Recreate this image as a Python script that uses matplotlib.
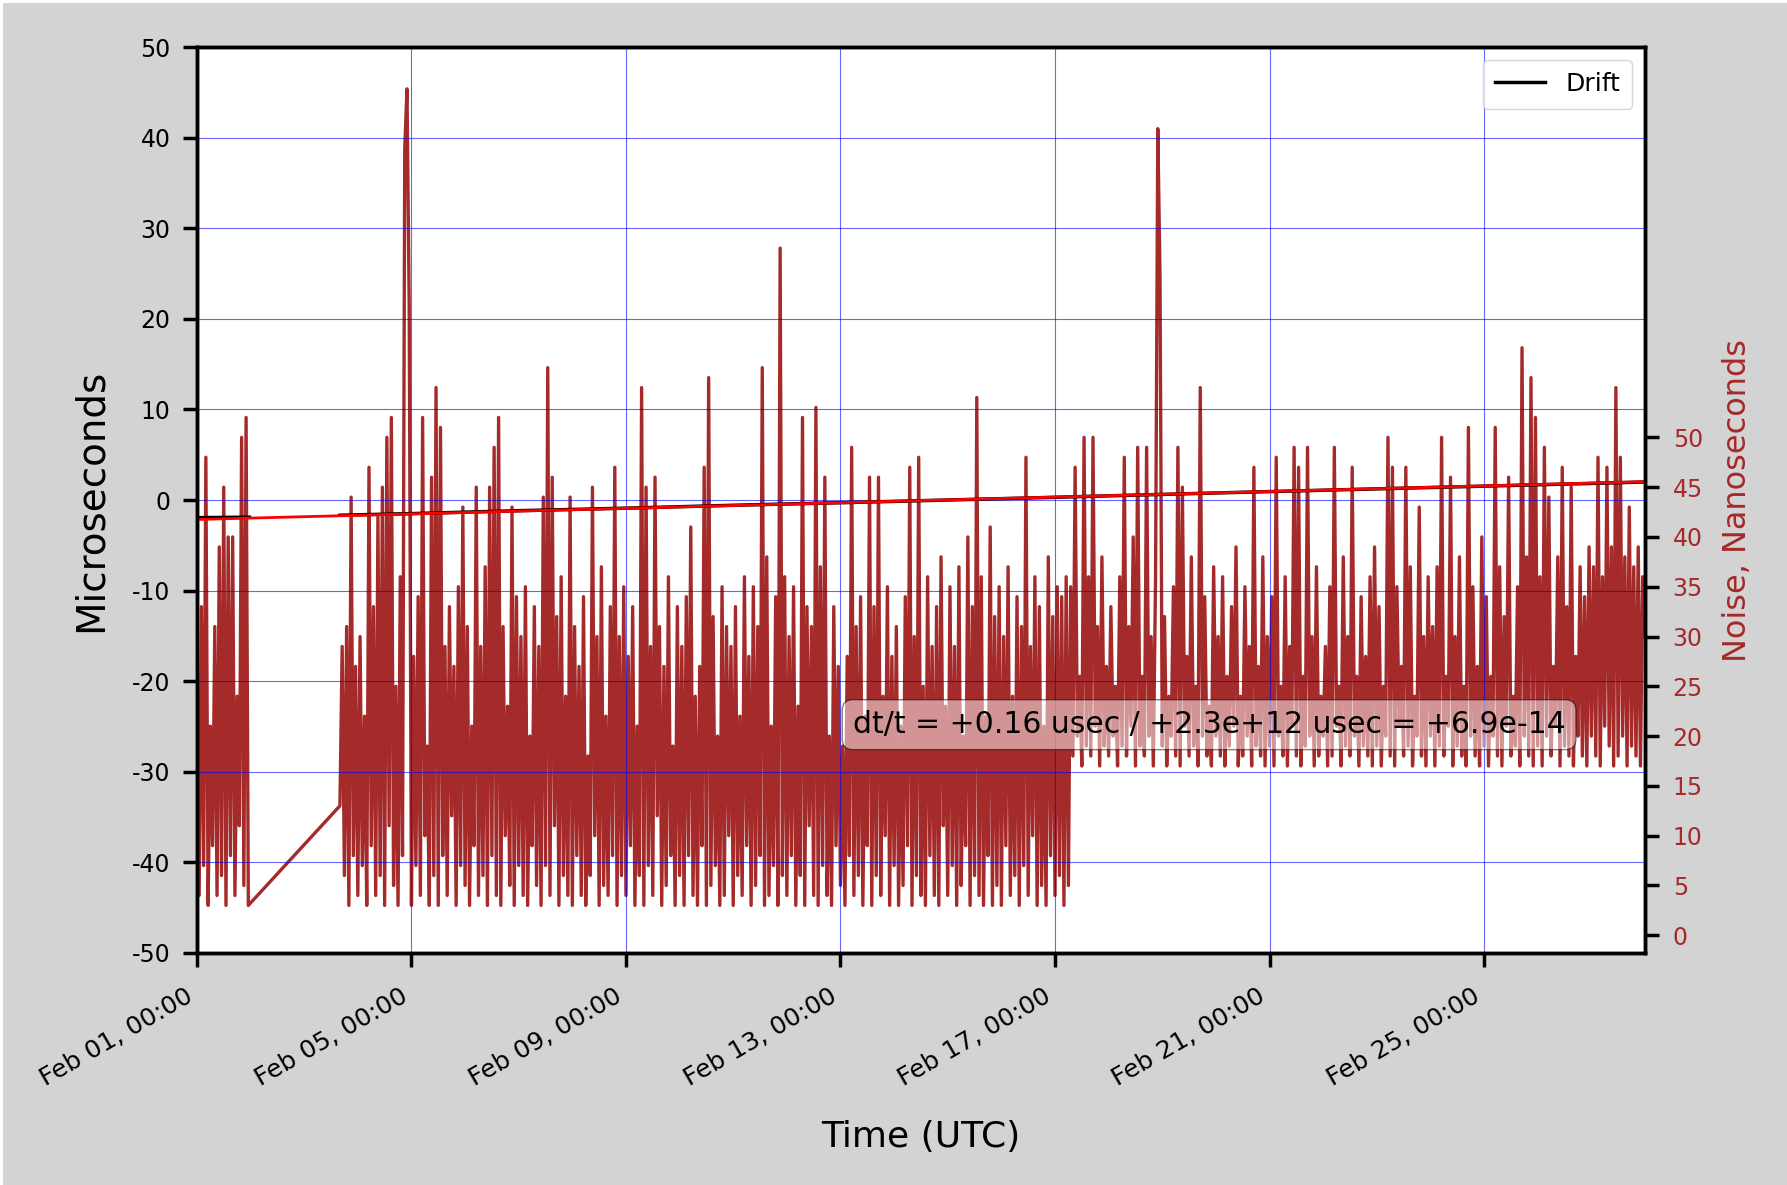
import numpy as np
import pandas as pd
import matplotlib
matplotlib.use("Agg")
import matplotlib.pyplot as plt
import matplotlib.dates as mdates
from matplotlib.patches import Rectangle

plt.rcParams["axes.unicode_minus"] = False

# Noise in nanoseconds, one reading per hour
noise_a_start = "2023-02-01 00:00"
noise_a = [28, 4, 33, 7, 48, 3, 21, 9, 31, 4, 39, 6, 45, 3, 40, 8, 40, 4, 24, 11, 50, 5, 52, 3]

noise_b_start = "2023-02-03 16:00"
noise_b = [
    13, 29, 6, 31, 3, 44, 8, 27,
    4, 30, 7, 22, 3, 47, 9, 33, 4, 42, 6, 45, 3, 50, 11, 52, 5, 25, 3, 36, 8, 79, 85, 63,
    3, 28, 7, 34, 4, 52, 10, 19, 3, 46, 6, 55, 3, 51, 8, 29, 4, 33, 12, 27, 3, 35, 7, 43,
    5, 31, 3, 21, 9, 45, 4, 29, 6, 37, 3, 45, 8, 49, 4, 52, 3, 31, 10, 23, 5, 43, 3, 34,
    7, 30, 4, 35, 3, 20, 9, 33, 5, 29, 3, 44, 7, 57, 4, 46, 11, 32, 3, 36, 6, 24, 4, 44,
    3, 31, 8, 27, 4, 34, 3, 18, 6, 45, 10, 30, 3, 37, 5, 22, 4, 33, 8, 47, 3, 30, 6, 35,
    4, 28, 9, 33, 3, 21, 6, 55, 3, 45, 7, 29, 4, 46, 12, 31, 3, 27, 5, 36, 8, 19, 3, 33,
    6, 29, 3, 34, 8, 41, 4, 24, 3, 27, 9, 47, 3, 56, 5, 32, 7, 20, 3, 35, 4, 31, 10, 29,
    3, 33, 6, 22, 4, 36, 9, 28, 3, 35, 5, 31, 8, 57, 3, 38, 4, 21, 7, 34, 3, 69, 6, 36,
    4, 30, 8, 35, 3, 23, 6, 52, 3, 33, 11, 31, 4, 53, 3, 37, 7, 46, 4, 20, 3, 33, 9, 27,
    5, 19, 3, 28, 8, 49, 4, 31, 6, 34, 3, 22, 9, 46, 3, 33, 6, 46, 4, 24, 10, 35, 3, 28,
    7, 31, 3, 21, 5, 34, 9, 47, 3, 30, 6, 48, 4, 25, 3, 36, 8, 29, 4, 33, 3, 38, 11, 23,
    4, 35, 7, 29, 3, 37, 5, 20, 9, 40, 3, 33, 6, 54, 4, 36, 3, 22, 8, 41, 3, 32, 5, 35,
    3, 30, 9, 37, 4, 24, 6, 34, 3, 31, 7, 48, 4, 29, 10, 36, 3, 33, 5, 21, 3, 38, 8, 32,
    4, 35, 6, 34, 3, 36, 5,
]

noise_c_start = "2023-02-17 07:00"
noise_c = [
    35, 18, 47, 20, 26, 17, 50, 19, 36, 18, 50, 21, 31, 17, 38, 19, 27,
    18, 33, 20, 25, 17, 36, 19, 48, 18, 31, 21, 40, 17, 49, 19, 26, 18, 49, 20, 30, 17, 36, 81, 66,
    19, 32, 17, 24, 20, 35, 18, 49, 17, 45, 21, 28, 18, 38, 19, 25, 17, 55, 20, 34, 18, 23, 17, 37,
    20, 30, 18, 36, 17, 26, 19, 33, 21, 39, 17, 24, 18, 35, 20, 29, 17, 47, 19, 27, 18, 38, 17, 30,
    19, 34, 17, 48, 20, 25, 18, 36, 17, 29, 21, 49, 18, 47, 17, 26, 19, 49, 20, 30, 17, 37, 18, 24,
    20, 29, 17, 35, 18, 49, 21, 25, 17, 38, 19, 30, 18, 47, 20, 26, 17, 34, 19, 28, 18, 36, 17, 39,
    19, 33, 17, 25, 20, 50, 18, 47, 17, 35, 21, 27, 18, 47, 19, 37, 17, 24, 20, 43, 18, 30, 17, 36,
    20, 31, 17, 37, 19, 50, 18, 26, 21, 46, 17, 30, 19, 38, 18, 25, 17, 51, 20, 35, 18, 27, 17, 40,
    19, 34, 17, 26, 20, 51, 18, 37, 17, 32, 21, 46, 18, 24, 19, 35, 17, 59, 20, 38, 18, 56, 17, 52,
    19, 36, 17, 49, 20, 44, 18, 27, 21, 38, 17, 47, 19, 33, 18, 45, 17, 28, 20, 37, 18, 34, 17, 39,
    20, 37, 18, 48, 17, 36, 21, 47, 19, 39, 17, 55, 18, 48, 20, 38, 17, 43, 19, 37, 18, 39, 17, 36,
    30,
]

# Drift in microseconds (gap between the two pieces)
drift_a_times = ["2023-02-01 00:00", "2023-02-01 12:00", "2023-02-01 23:30"]
drift_a_us = [-1.95, -1.92, -1.90]
drift_b_times = ["2023-02-03 16:00", "2023-02-05 00:00", "2023-02-07 00:00",
                 "2023-02-09 00:00", "2023-02-11 00:00", "2023-02-13 00:00",
                 "2023-02-15 00:00", "2023-02-17 00:00", "2023-02-19 00:00",
                 "2023-02-21 00:00", "2023-02-23 00:00", "2023-02-25 00:00",
                 "2023-02-27 00:00", "2023-02-28 00:00"]
drift_b_us = [-1.68, -1.50, -1.18, -0.90, -0.58, -0.30, 0.00, 0.30,
              0.62, 0.93, 1.23, 1.53, 1.83, 1.99]

# linear fit of the drift
fit_times = ["2023-02-01 00:00", "2023-02-28 00:00"]
fit_us = [-2.15, 2.02]

noise_ticks = list(range(0, 55, 5))
note = "dt/t = +0.16 usec / +2.3e+12 usec = +6.9e-14"


def hourly(start, values):
    return pd.date_range(start, periods=len(values), freq="h")


t_noise = hourly(noise_a_start, noise_a).append(
    [hourly(noise_b_start, noise_b), hourly(noise_c_start, noise_c)])
noise = np.array(noise_a + noise_b + noise_c, dtype=float)

W, H = 1787, 1185
fig = plt.figure(figsize=(W / 100, H / 100), dpi=100)
fig.patch.set_facecolor("white")
fig.patches.append(Rectangle((3 / W, 0), 1, 1 - 3 / H, transform=fig.transFigure,
                             facecolor="lightgray", edgecolor="none", zorder=-10))

ax = fig.add_axes([0.1102, 0.1958, 0.8103, 0.7645])
ax2 = ax.twinx()

ax2.plot(t_noise, noise, color="brown", linewidth=2.4)

ax.plot(pd.to_datetime(drift_a_times), drift_a_us, color="black", linewidth=2.5, label="Drift")
ax.plot(pd.to_datetime(drift_b_times), drift_b_us, color="black", linewidth=2.5)
ax.plot(pd.to_datetime(fit_times), fit_us, color="red", linewidth=2)

# left axes on top so grid, drift and note sit over the noise
ax.set_zorder(ax2.get_zorder() + 1)
ax.patch.set_visible(False)
ax2.patch.set_visible(True)
ax2.patch.set_facecolor("white")

ax.set_xlim(t_noise[0], t_noise[-1])
ax.set_ylim(-50, 50)
ax.set_yticks(range(-50, 51, 10))
ax2.set_ylim(-1.78, 89.2)
ax2.set_yticks(noise_ticks)

ax.xaxis.set_major_locator(mdates.DayLocator(bymonthday=[1, 5, 9, 13, 17, 21, 25]))
ax.xaxis.set_major_formatter(mdates.DateFormatter("%b %d, %H:%M"))
plt.setp(ax.get_xticklabels(), rotation=30, ha="right")

ax.grid(True, color="blue", linewidth=0.8, alpha=0.6)

for a in (ax, ax2):
    for s in a.spines.values():
        s.set_linewidth(2.5)
ax.tick_params(axis="both", length=10, width=2.5)
ax.tick_params(axis="y", labelsize=17, pad=9)
ax.tick_params(axis="x", labelsize=18, pad=12)
ax2.tick_params(axis="y", length=10, width=2.5, labelsize=17, pad=10, labelcolor="brown")

ax.set_ylabel("Microseconds", fontsize=28, labelpad=16)
ax.set_xlabel("Time (UTC)", fontsize=26, labelpad=21)
ax2.set_ylabel("Noise, Nanoseconds", fontsize=23, color="brown", labelpad=14)

ax.legend(loc="upper right", fontsize=18, borderpad=0.5)

ax.text(0.699, 0.252, note, transform=ax.transAxes, ha="center", va="center",
        fontsize=21.5, bbox=dict(boxstyle="round,pad=0.35", facecolor="white", alpha=0.5))

fig.savefig("out.png", dpi=100, facecolor=fig.get_facecolor())
